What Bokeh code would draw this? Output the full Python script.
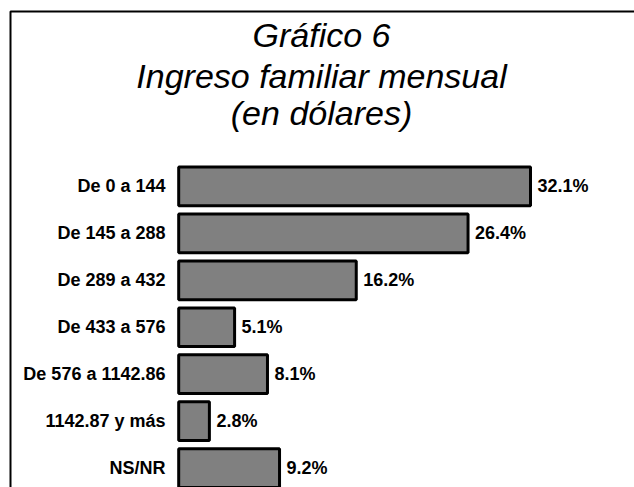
from bokeh.plotting import figure
from bokeh.models import Range1d, Label, LabelSet, ColumnDataSource, BoxAnnotation
from bokeh.core.properties import value
from bokeh.embed import file_html
from bokeh.resources import INLINE

# ---- data ----
title_lines = ["Gráfico 6", "Ingreso familiar mensual", "(en dólares)"]
categories = ["De 0 a 144", "De 145 a 288", "De 289 a 432", "De 433 a 576",
              "De 576 a 1142.86", "1142.87 y más", "NS/NR"]
values = [32.1, 26.4, 16.2, 5.1, 8.1, 2.8, 9.2]
value_labels = [f"{v:.1f}%" for v in values]

# ---- layout constants (pixels, canvas coordinates) ----
W, H = 634, 487
ZERO_PX = 178.2          # x position of 0 %
PX_PER_PCT = 10.96
FIRST_ROW_PX = 185.9     # centre of first category
ROW_PX = 46.95
BAR_H = 0.824
CAT_GAP = 13.2
VAL_GAP = 7
FRAME_X = 10             # chart-area border, left line
FRAME_Y = 11             # chart-area border, top line
TITLE_CX = 321
TITLE_BASELINES = [34, 75, 112]
FONT = "Liberation Sans"

n = len(categories)
ypos = [n - 1 - i for i in range(n)]

x_start = -ZERO_PX / PX_PER_PCT
x_end = (W - ZERO_PX) / PX_PER_PCT
y_end = (n - 1) + FIRST_ROW_PX / ROW_PX
y_start = y_end - H / ROW_PX

src = ColumnDataSource(dict(y=ypos, value=values, label=value_labels,
                            cat=categories, zero=[0] * n))

p = figure(width=W, height=H,
           x_range=Range1d(x_start, x_end), y_range=Range1d(y_start, y_end),
           output_backend="svg", toolbar_location=None,
           min_border=0, x_axis_location=None, y_axis_location=None)
p.outline_line_color = None
p.xgrid.visible = False
p.ygrid.visible = False
p.background_fill_color = "white"
p.border_fill_color = "white"

# chart-area border (its right and bottom sides lie outside the picture)
p.add_layout(BoxAnnotation(left=x_start + FRAME_X / PX_PER_PCT,
                           top=y_end - FRAME_Y / ROW_PX,
                           right=x_end + 5, bottom=y_start - 5,
                           fill_color=None, fill_alpha=0,
                           line_color="black", line_width=2, line_alpha=1))

p.hbar(y="y", left=0, right="value", height=BAR_H, source=src,
       fill_color="#808080", line_color="black", line_width=3)

p.add_layout(LabelSet(x="zero", y="y", text="cat", source=src,
                      x_offset=-CAT_GAP, text_align="right", text_baseline="middle",
                      text_font=value(FONT), text_font_style="bold",
                      text_font_size="18px", text_color="black"))

p.add_layout(LabelSet(x="value", y="y", text="label", source=src,
                      x_offset=VAL_GAP, text_align="left", text_baseline="middle",
                      text_font=value(FONT), text_font_style="bold",
                      text_font_size="18px", text_color="black"))

for line, base in zip(title_lines, TITLE_BASELINES):
    p.add_layout(Label(x=TITLE_CX, y=H - base,
                       x_units="screen", y_units="screen", text=line,
                       text_align="center", text_baseline="alphabetic",
                       text_font=FONT, text_font_style="italic",
                       text_font_size="34px", text_color="black"))

open("out.html", "w").write(file_html(p, INLINE))
